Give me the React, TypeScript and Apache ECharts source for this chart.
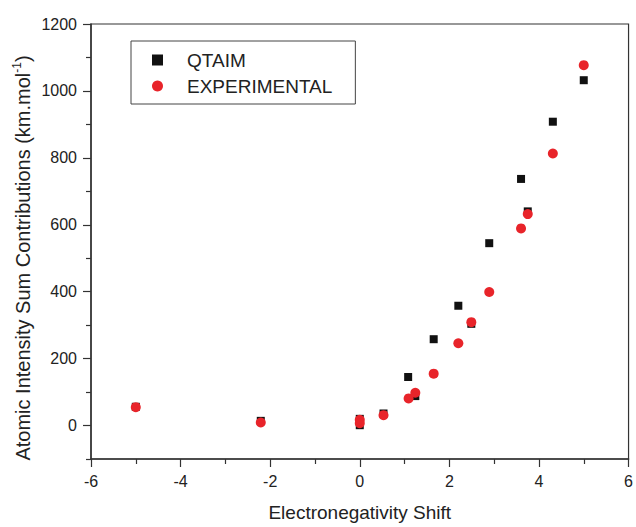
import React, { useEffect, useRef } from "react";
import * as echarts from "echarts";

const qtaimX = [-5, -2.21, 0, 0, 0.53, 1.08, 1.24, 1.65, 2.2, 2.49, 2.89, 3.6, 3.75, 4.31, 5.0];
const qtaimY = [56, 14, 20, 1, 36, 145, 88, 258, 358, 304, 545, 737, 640, 908, 1032];
const expX = [-5, -2.21, 0, 0, 0.53, 1.09, 1.24, 1.65, 2.2, 2.49, 2.89, 3.6, 3.75, 4.31, 5.0];
const expY = [55, 9, 17, 7, 31, 81, 98, 155, 246, 309, 399, 589, 632, 813, 1077];
const yMajorTicks = [0, 200, 400, 600, 800, 1000, 1200];
const yMinorTicks = [-100, 100, 300, 500, 700, 900, 1100];
const seriesNames = ["QTAIM", "EXPERIMENTAL"];
const xTitle = "Electronegativity Shift";
const yTitle = "Atomic Intensity Sum Contributions (km.mol";

const FONT = "'Liberation Sans', Arial, sans-serif";
const AXIS = "#333";

export default function App() {
  const ref = useRef<HTMLDivElement>(null);
  useEffect(() => {
    document.body.style.margin = "0";
    const chart = echarts.init(ref.current!, null, { renderer: "svg" });
    const zip = (xs: number[], ys: number[]) => xs.map((x, i) => [x, ys[i]]);
    chart.setOption({
      animation: false,
      backgroundColor: "#fff",
      textStyle: { fontFamily: FONT },
      grid: {
        left: 91, right: 4, top: 24, bottom: 65,
        show: true, borderColor: AXIS, borderWidth: 1.2, backgroundColor: "transparent",
      },
      legend: {
        orient: "vertical",
        left: 131, top: 41,
        borderColor: "#444", borderWidth: 1,
        padding: [9, 23, 8, 21],
        itemWidth: 11, itemHeight: 11, itemGap: 6,
        textStyle: { fontSize: 19, lineHeight: 20, color: "#222", fontFamily: FONT, padding: [0, 0, 0, 19] },
        data: [
          { name: seriesNames[0], icon: "rect" },
          { name: seriesNames[1], icon: "circle" },
        ],
      },
      xAxis: {
        type: "value", min: -6, max: 6, interval: 2,
        name: xTitle, nameLocation: "middle", nameGap: 44,
        nameTextStyle: { fontSize: 19, color: "#222", fontFamily: FONT },
        axisLine: { show: true, onZero: false, lineStyle: { color: AXIS, width: 1.5 } },
        axisTick: { show: true, length: 8, lineStyle: { color: AXIS, width: 1.2 } },
        minorTick: { show: true, splitNumber: 2, length: 5, lineStyle: { color: AXIS, width: 1.2 } },
        axisLabel: { fontSize: 16, color: "#222", margin: 14, fontFamily: FONT, formatter: (v: number) => String(v) },
        splitLine: { show: false },
      },
      yAxis: [
        {
          type: "value", min: -100, max: 1200, interval: 100,
          axisLine: { show: true, onZero: false, lineStyle: { color: AXIS, width: 1.5 } },
          axisTick: { show: true, length: 8, customValues: yMajorTicks, lineStyle: { color: AXIS, width: 1.2 } },
          axisLabel: {
            fontSize: 16, color: "#222", margin: 14, customValues: yMajorTicks, fontFamily: FONT,
            formatter: (v: number) => String(v),
          },
          splitLine: { show: false },
        },
        {
          type: "value", min: -100, max: 1200, interval: 100, position: "left",
          axisLine: { show: false, onZero: false },
          axisTick: { show: true, length: 5, customValues: yMinorTicks, lineStyle: { color: AXIS, width: 1.2 } },
          axisLabel: { show: false },
          splitLine: { show: false },
        },
      ],
      graphic: [
        {
          type: "text",
          x: 23, y: 258,
          rotation: Math.PI / 2,
          style: {
            text: `{t|${yTitle}}{s|-1}{t|)}`,
            align: "center",
            verticalAlign: "middle",
            fill: "#222",
            rich: {
              t: { fontSize: 20, lineHeight: 24, fontFamily: FONT, fill: "#222" },
              s: { fontSize: 12, lineHeight: 12, verticalAlign: "top", fontFamily: FONT, fill: "#222" },
            },
          },
        },
      ],
      series: [
        {
          name: seriesNames[0], type: "scatter", symbol: "rect", symbolSize: 8,
          itemStyle: { color: "#111", opacity: 1 },
          data: zip(qtaimX, qtaimY),
        },
        {
          name: seriesNames[1], type: "scatter", symbol: "circle", symbolSize: 10,
          itemStyle: { color: "#e8242a", opacity: 1 },
          data: zip(expX, expY),
        },
      ],
    });
    return () => chart.dispose();
  }, []);
  return <div ref={ref} style={{ width: 636, height: 527 }} />;
}
